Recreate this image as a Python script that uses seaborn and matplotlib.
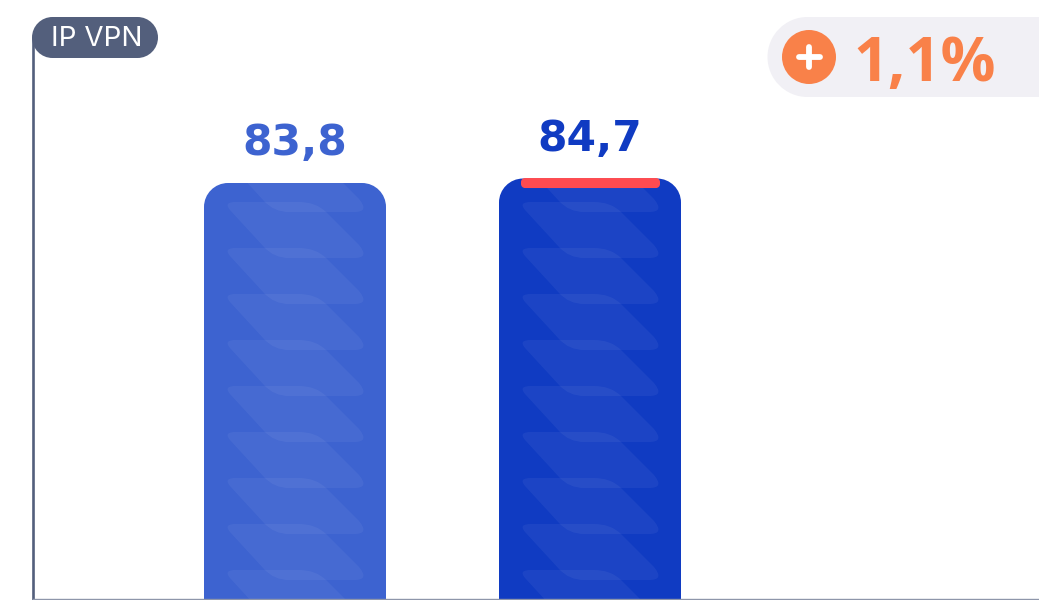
import matplotlib
matplotlib.use("Agg")
import matplotlib.pyplot as plt
import seaborn as sns
import pandas as pd
from matplotlib.patches import Circle, PathPatch
from matplotlib.path import Path

categories = ["Période 1", "Période 2"]
values = [83.8, 84.7]
colors = ["#3D63D0", "#103BC2"]
axis_title = "IP VPN"
delta_label = "1,1%"

W, H = 1039, 600
BASE_Y = 599.0
PX_PER_UNIT = (BASE_Y - 183) / 83.8
AXIS_X = 33
CENTER0, STEP = 295, 295


def rrect(x, y, w, h, r):
    k = 0.5523 * r
    x1, y1 = x + w, y + h
    verts = [(x + r, y), (x1 - r, y), (x1 - r + k, y), (x1, y + r - k), (x1, y + r),
             (x1, y1 - r), (x1, y1 - r + k), (x1 - r + k, y1), (x1 - r, y1),
             (x + r, y1), (x + r - k, y1), (x, y1 - r + k), (x, y1 - r),
             (x, y + r), (x, y + r - k), (x + r - k, y), (x + r, y), (x + r, y)]
    codes = [Path.MOVETO, Path.LINETO, Path.CURVE4, Path.CURVE4, Path.CURVE4,
             Path.LINETO, Path.CURVE4, Path.CURVE4, Path.CURVE4,
             Path.LINETO, Path.CURVE4, Path.CURVE4, Path.CURVE4,
             Path.LINETO, Path.CURVE4, Path.CURVE4, Path.CURVE4, Path.CLOSEPOLY]
    return Path(verts, codes)


sns.set_theme(style="white")
fig = plt.figure(figsize=(W / 100, H / 100), dpi=100, facecolor="white")

ax = fig.add_axes([AXIS_X / W, (H - BASE_Y) / H, (W - AXIS_X) / W, BASE_Y / H])
df = pd.DataFrame({"cat": categories, "val": values})
sns.barplot(data=df, x="cat", y="val", hue="cat", palette=colors, width=182 / STEP,
            legend=False, saturation=1, ax=ax)
ax.set_xlim((AXIS_X - CENTER0) / STEP, (W - CENTER0) / STEP)
ax.set_ylim(0, BASE_Y / PX_PER_UNIT)
ax.set_xlabel("")
ax.set_ylabel("")
ax.set_xticks([])
ax.set_yticks([])
ax.patch.set_alpha(0)
sns.despine(ax=ax)
ax.spines["left"].set_color("#535F7C")
ax.spines["left"].set_linewidth(1.9)
ax.spines["left"].set_bounds(0, (BASE_Y - 38) / PX_PER_UNIT)
ax.spines["bottom"].set_color("#8E96AA")
ax.spines["bottom"].set_linewidth(1.0)

# pixel overlay for decorations
ov = fig.add_axes([0, 0, 1, 1], zorder=5)
ov.set_xlim(0, W)
ov.set_ylim(H, 0)
ov.axis("off")

motif_codes = [Path.MOVETO, Path.LINETO, Path.CURVE3, Path.CURVE3, Path.LINETO,
               Path.CURVE3, Path.CURVE3, Path.LINETO, Path.CURVE3, Path.CURVE3,
               Path.LINETO, Path.CURVE3, Path.CURVE3, Path.CLOSEPOLY]
motif = [(32, 0), (95, 0), (112, 0), (122, 10), (155, 43), (166, 56), (150, 56),
         (85, 56), (70, 56), (60, 45), (26, 8), (19, 0), (32, 0), (32, 0)]

for bar, val, col in zip(list(ax.patches), values, colors):
    x0_disp = ax.transData.transform((bar.get_x(), 0))[0]
    x1_disp = ax.transData.transform((bar.get_x() + bar.get_width(), 0))[0]
    top = BASE_Y - val * PX_PER_UNIT
    bw = x1_disp - x0_disp
    shape = rrect(x0_disp, top, bw, 700, 24)
    bar.set_visible(False)
    rounded = PathPatch(shape, facecolor=col, edgecolor="none", transform=ov.transData,
                        zorder=1)
    ax.add_artist(rounded)
    rounded.set_clip_box(ax.bbox)
    for y0 in range(156, 600, 46):
        verts = [(x0_disp + a, y0 + b) for a, b in motif]
        p = PathPatch(Path(verts, motif_codes), facecolor="white", edgecolor="none", alpha=0.05)
        ov.add_patch(p)
        p.set_clip_path(shape, ov.transData)
        p.set_clip_box(ax.bbox)
    label = f"{val:.1f}".replace(".", ",")
    ov.text(x0_disp + bw / 2, top - 28, label, color=col, ha="center", va="baseline",
            fontsize=30.5, fontweight="bold", family="DejaVu Sans")

# highlight cap on the highest bar
top2 = BASE_Y - values[1] * PX_PER_UNIT
ov.add_patch(PathPatch(rrect(521, top2 - 0.5, 139, 10, 4), facecolor="#FF4B50", edgecolor="none"))

# axis title pill
ov.add_patch(PathPatch(rrect(32, 17, 126, 41, 20.5), facecolor="#535F7C", edgecolor="none"))
ov.text(96.5, 45.5, axis_title, color="white", ha="center", va="baseline", fontsize=20,
        family="Inter", fontweight="normal")

# delta badge
ov.add_patch(PathPatch(rrect(767.5, 17, 360, 80, 40), facecolor="#F1F0F5", edgecolor="none"))
ov.add_patch(Circle((809, 57), 27, facecolor="#F98149", edgecolor="none"))
ov.plot([799, 819.5], [57, 57], color="white", lw=4.2, solid_capstyle="round")
ov.plot([809, 809], [47, 67], color="white", lw=4.2, solid_capstyle="round")
ov.text(853, 81, delta_label, color="#F98149", ha="left", va="baseline", fontsize=44,
        fontweight="bold", family="Open Sans")

fig.savefig("out.png", dpi=100, facecolor="white")
